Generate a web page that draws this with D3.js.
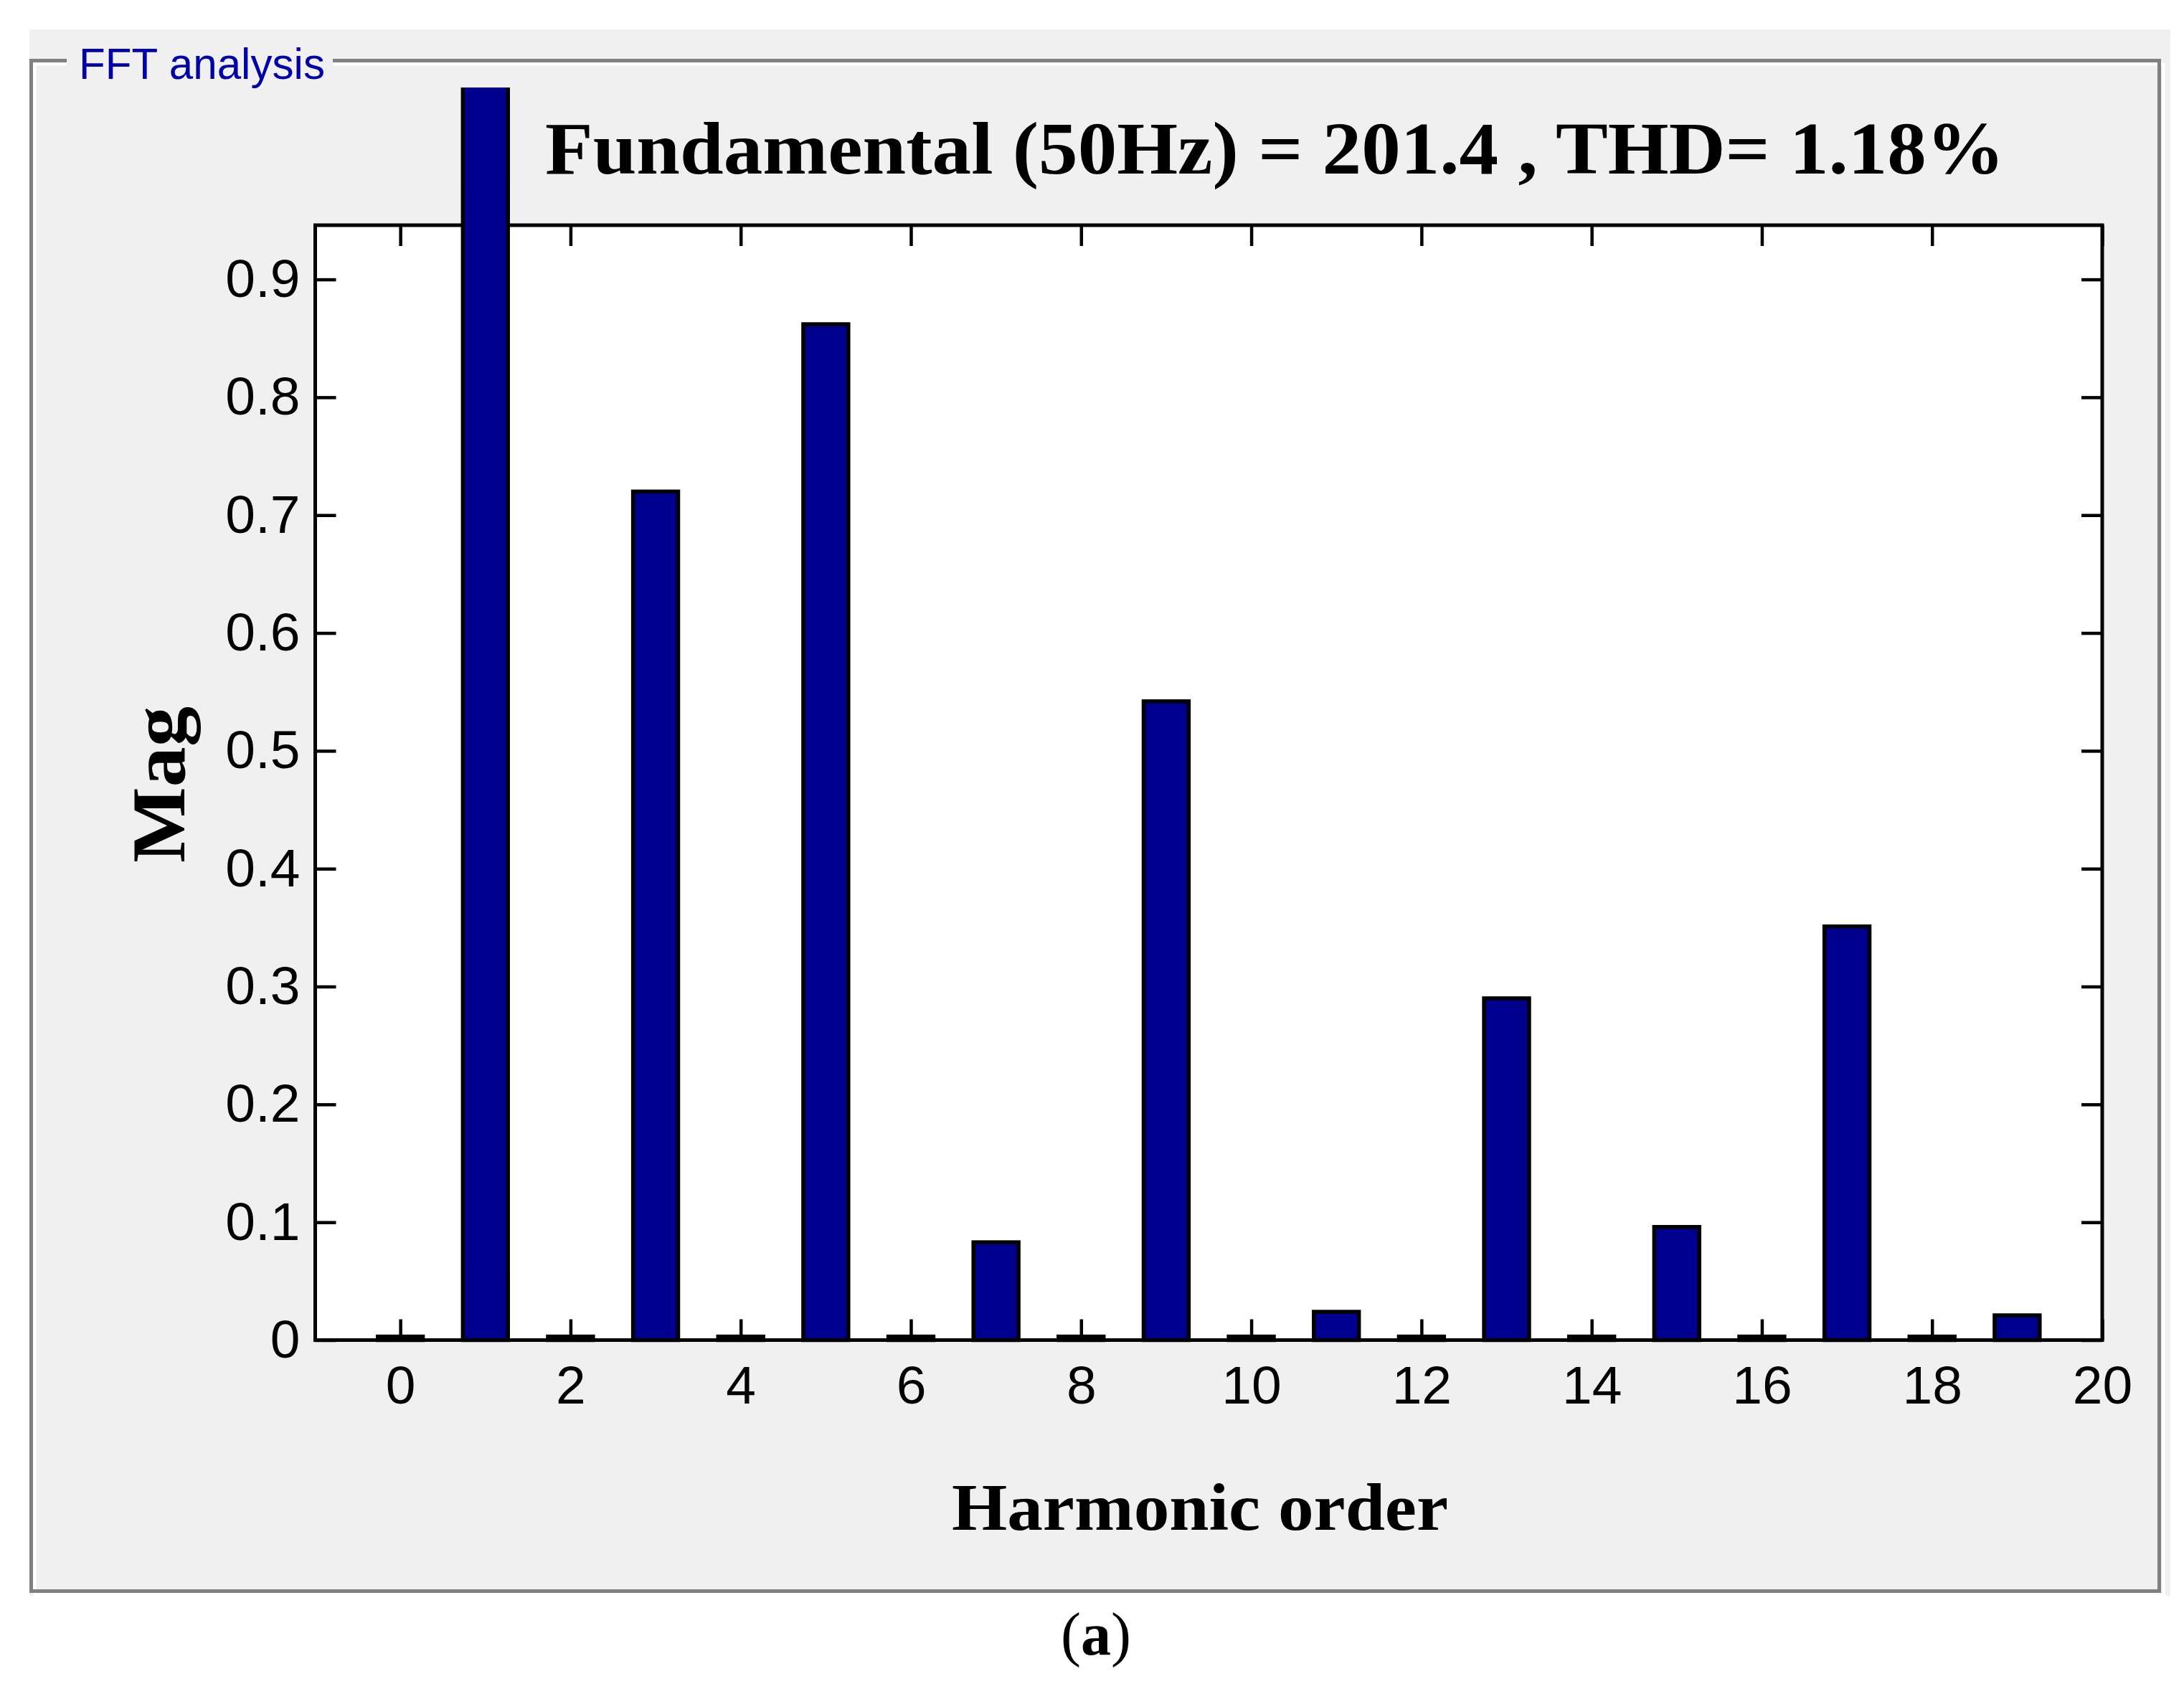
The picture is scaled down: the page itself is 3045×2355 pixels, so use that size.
<!DOCTYPE html>
<html>
<head>
<meta charset="utf-8">
<script src="https://cdn.jsdelivr.net/npm/d3@7"></script>
<style>
  html, body { margin: 0; padding: 0; background: #ffffff; }
  svg { display: block; }
</style>
</head>
<body>
<script>
// ---- data ----
const harmonics = [0,1,2,3,4,5,6,7,8,9,10,11,12,13,14,15,16,17,18,19];
// magnitude in % of fundamental (fundamental = 100, clipped in view)
const magnitudes = [0.003, 100, 0.003, 0.720, 0.003, 0.862, 0.003, 0.083, 0.003, 0.542,
                    0.003, 0.024, 0.003, 0.290, 0.003, 0.096, 0.003, 0.351, 0.003, 0.021];
const xTicks = [0,2,4,6,8,10,12,14,16,18,20];
const yTicks = [0,0.1,0.2,0.3,0.4,0.5,0.6,0.7,0.8,0.9];
const xDomain = [-1, 20];
const yDomain = [0, 0.946];
const barWidth = 0.53;
const panelLabel = "FFT analysis";
const titleText = "Fundamental (50Hz) = 201.4 , THD= 1.18%";
const xLabel = "Harmonic order";
const yLabel = "Mag";

// ---- layout ----
const W = 3045, H = 2355;
const plot = { left: 439.5, right: 2931, top: 314, bottom: 1868.5 };

const svg = d3.select("body").append("svg")
  .attr("width", W).attr("height", H);

svg.append("rect").attr("width", W).attr("height", H).attr("fill", "#ffffff");

// panel background
svg.append("rect").attr("x", 41).attr("y", 41).attr("width", 2985).attr("height", 2184)
  .attr("fill", "#f0f0f0");

// etched frame
svg.append("rect").attr("x", 48.5).attr("y", 89.5).attr("width", 2968).attr("height", 2134)
  .attr("fill", "none").attr("stroke", "#ffffff").attr("stroke-width", 4);
svg.append("rect").attr("x", 43.5).attr("y", 84.5).attr("width", 2967).attr("height", 2134)
  .attr("fill", "none").attr("stroke", "#808080").attr("stroke-width", 5);

// gap behind the label
svg.append("rect").attr("x", 93).attr("y", 70).attr("width", 371).attr("height", 26)
  .attr("fill", "#f0f0f0");
svg.append("text").attr("x", 110).attr("y", 110)
  .attr("font-family", "Liberation Sans, Arial, sans-serif")
  .attr("font-size", 62).attr("fill", "#0000a8")
  .attr("textLength", 343).attr("lengthAdjust", "spacingAndGlyphs")
  .text(panelLabel);

// scales
const x = d3.scaleLinear().domain(xDomain).range([plot.left, plot.right]);
const y = d3.scaleLinear().domain(yDomain).range([plot.bottom, plot.top]);

// plot background
svg.append("rect").attr("x", plot.left).attr("y", plot.top)
  .attr("width", plot.right - plot.left).attr("height", plot.bottom - plot.top)
  .attr("fill", "#ffffff");

// axes
const tickLen = 29;
const axisFont = "Liberation Sans, Arial, sans-serif";

const gBottom = svg.append("g").attr("transform", `translate(0,${plot.bottom})`)
  .call(d3.axisBottom(x).tickValues(xTicks).tickSizeInner(-tickLen).tickSizeOuter(0).tickPadding(35)
        .tickFormat(d3.format("d")));
const gLeft = svg.append("g").attr("transform", `translate(${plot.left},0)`)
  .call(d3.axisLeft(y).tickValues(yTicks).tickSizeInner(-tickLen).tickSizeOuter(0).tickPadding(21)
        .tickFormat(d => d === 0 ? "0" : d3.format(".1f")(d)));
const gTop = svg.append("g").attr("transform", `translate(0,${plot.top})`)
  .call(d3.axisTop(x).tickValues(xTicks).tickSizeInner(-tickLen).tickSizeOuter(0).tickFormat(""));
const gRight = svg.append("g").attr("transform", `translate(${plot.right},0)`)
  .call(d3.axisRight(y).tickValues(yTicks).tickSizeInner(-tickLen).tickSizeOuter(0).tickFormat(""));

[gBottom, gLeft, gTop, gRight].forEach(g => {
  g.select(".domain").remove();
  g.selectAll(".tick line").attr("stroke", "#000").attr("stroke-width", 4.5);
  g.selectAll(".tick text").attr("font-family", axisFont).attr("font-size", 75).attr("fill", "#000");
});
gLeft.selectAll(".tick text").attr("dy", "0.32em");
gBottom.selectAll(".tick text").attr("dy", "0.71em");

// axes box
svg.append("rect").attr("x", plot.left).attr("y", plot.top)
  .attr("width", plot.right - plot.left).attr("height", plot.bottom - plot.top)
  .attr("fill", "none").attr("stroke", "#000").attr("stroke-width", 5);

// clip for bars (fundamental bar is cut off)
svg.append("clipPath").attr("id", "barclip")
  .append("rect").attr("x", 0).attr("y", 122).attr("width", W).attr("height", plot.bottom + 20 - 122);

const data = harmonics.map((h, i) => ({ h, v: magnitudes[i] }));

svg.append("g").attr("clip-path", "url(#barclip)")
  .selectAll("rect").data(data).join("rect")
  .attr("x", d => x(d.h - barWidth / 2))
  .attr("width", d => x(d.h + barWidth / 2) - x(d.h - barWidth / 2))
  .attr("y", d => y(d.v))
  .attr("height", d => y(0) - y(d.v))
  .attr("fill", "#00008f")
  .attr("stroke", "#000000")
  .attr("stroke-width", 5.5);

// re-draw the ticks that sit on the small bars
gBottom.raise();

// title
svg.append("text").attr("x", 760).attr("y", 242)
  .attr("font-family", "Liberation Serif, Times New Roman, serif")
  .attr("font-weight", "bold").attr("font-size", 104).attr("fill", "#000")
  .attr("textLength", 2035).attr("lengthAdjust", "spacingAndGlyphs")
  .text(titleText);

// x label
svg.append("text").attr("x", 1327).attr("y", 2133)
  .attr("font-family", "Liberation Serif, Times New Roman, serif")
  .attr("font-weight", "bold").attr("font-size", 94).attr("fill", "#000")
  .attr("textLength", 692).attr("lengthAdjust", "spacingAndGlyphs")
  .text(xLabel);

// y label
svg.append("text").attr("transform", "translate(257,1094) rotate(-90)")
  .attr("text-anchor", "middle")
  .attr("font-family", "Liberation Serif, Times New Roman, serif")
  .attr("font-weight", "bold").attr("font-size", 106).attr("fill", "#000")
  .attr("textLength", 218).attr("lengthAdjust", "spacingAndGlyphs")
  .text(yLabel);

// caption
const cap = svg.append("text").attr("x", 1528).attr("y", 2307)
  .attr("text-anchor", "middle")
  .attr("font-family", "Liberation Serif, Times New Roman, serif")
  .attr("font-size", 84).attr("fill", "#000");
cap.append("tspan").text("(");
cap.append("tspan").attr("font-weight", "bold").text("a");
cap.append("tspan").text(")");
</script>
</body>
</html>
